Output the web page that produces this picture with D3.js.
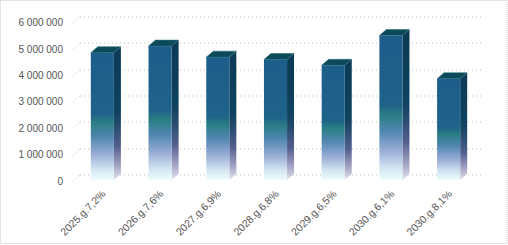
<!DOCTYPE html>
<html><head><meta charset="utf-8">
<script src="https://cdn.jsdelivr.net/npm/d3@7"></script>
<style>body{margin:0;background:#fff}svg{display:block}text{font-family:"Liberation Sans",Arial,sans-serif;font-size:10px;fill:#555}</style>
</head><body>
<svg id="c" width="508" height="245"></svg>
<script>
const categories = ["2025.g.7,2%","2026.g.7,6%","2027.g.6,9%","2028.g.6,8%","2029.g.6,5%","2030.g.6,1%","2030.g.8,1%"];
const values = [4850000, 5100000, 4680000, 4590000, 4370000, 5500000, 3860000];
const yTicks = [0, 1000000, 2000000, 3000000, 4000000, 5000000, 6000000];

const svg = d3.select("#c");
const DX = 7, DY = 6.5;
const x = d3.scaleBand().domain(categories).range([73, 477]).paddingInner(0.6).paddingOuter(0.3);
const y = d3.scaleLinear().domain([0, 6000000]).range([181, 22.9]);
const fmt = d3.formatLocale({thousands: "\u00a0", grouping: [3], decimal: ",", currency: ["", ""]}).format(",");

const defs = svg.append("defs");
function grad(id, stops) {
  const g = defs.append("linearGradient").attr("id", id).attr("x1", 0).attr("y1", 0).attr("x2", 0).attr("y2", 1);
  stops.forEach(s => g.append("stop").attr("offset", s[0]).attr("stop-color", s[1]));
}
grad("gFront", [[0, "#1d5d8b"], [0.48, "#1f628a"], [0.55, "#2a7e84"], [0.66, "#4f86b0"], [0.8, "#9aaed6"], [0.92, "#d4e6f2"], [1, "#eefcfc"]]);
grad("gSide", [[0, "#0b3a55"], [0.48, "#0e425e"], [0.6, "#2a4c70"], [0.75, "#55608e"], [0.9, "#a8a8c8"], [1, "#e4e4ee"]]);

// border
svg.append("rect").attr("x", 0.5).attr("y", 0.5).attr("width", 506.5).attr("height", 243)
  .attr("fill", "none").attr("stroke", "#c8c8c8").attr("stroke-dasharray", "1,1");

// gridlines
const gl = svg.append("g").attr("stroke", "#bdbdbd").attr("stroke-dasharray", "1,3").attr("fill", "none");
yTicks.forEach(t => {
  const yy = Math.round(y(t)) + 0.5;
  gl.append("line").attr("x1", 80).attr("x2", 484).attr("y1", yy - DY).attr("y2", yy - DY);
  gl.append("line").attr("x1", 73).attr("x2", 80).attr("y1", yy).attr("y2", yy - DY);
});

// y labels
svg.append("g").selectAll("text").data(yTicks).join("text")
  .attr("x", 63).attr("y", d => y(d)).attr("dy", "0.35em").attr("text-anchor", "end").text(d => fmt(d));

// bars
const bars = svg.append("g").selectAll("g").data(categories).join("g");
bars.each(function(c, i) {
  const g = d3.select(this);
  const x0 = x(c) + 0.5, x1 = x0 + x.bandwidth();
  const yt = y(values[i]) - 0.5, yb = y(0) - 1;
  g.append("polygon").attr("points", [[x1, yt], [x1 + DX, yt - DY + 0.5], [x1 + DX, yb - DY + 0.5], [x1, yb]].join(" ")).attr("fill", "url(#gSide)");
  g.append("polygon").attr("points", [[x0, yt], [x0 + DX, yt - DY + 0.5], [x1 + DX, yt - DY + 0.5], [x1, yt]].join(" ")).attr("fill", "#0c4a5a").attr("stroke", "#2a6f7a").attr("stroke-width", 0.6);
  g.append("rect").attr("x", x0).attr("y", yt).attr("width", x1 - x0).attr("height", yb - yt).attr("fill", "url(#gFront)");
});

// x labels
svg.append("g").selectAll("text").data(categories).join("text")
  .attr("transform", d => `translate(${x(d) + x.bandwidth() / 2 + 2},${192}) rotate(-45)`)
  .attr("text-anchor", "end").attr("dy", "0.35em").style("font-size", "10.5px").text(d => d);
</script>
</body></html>
